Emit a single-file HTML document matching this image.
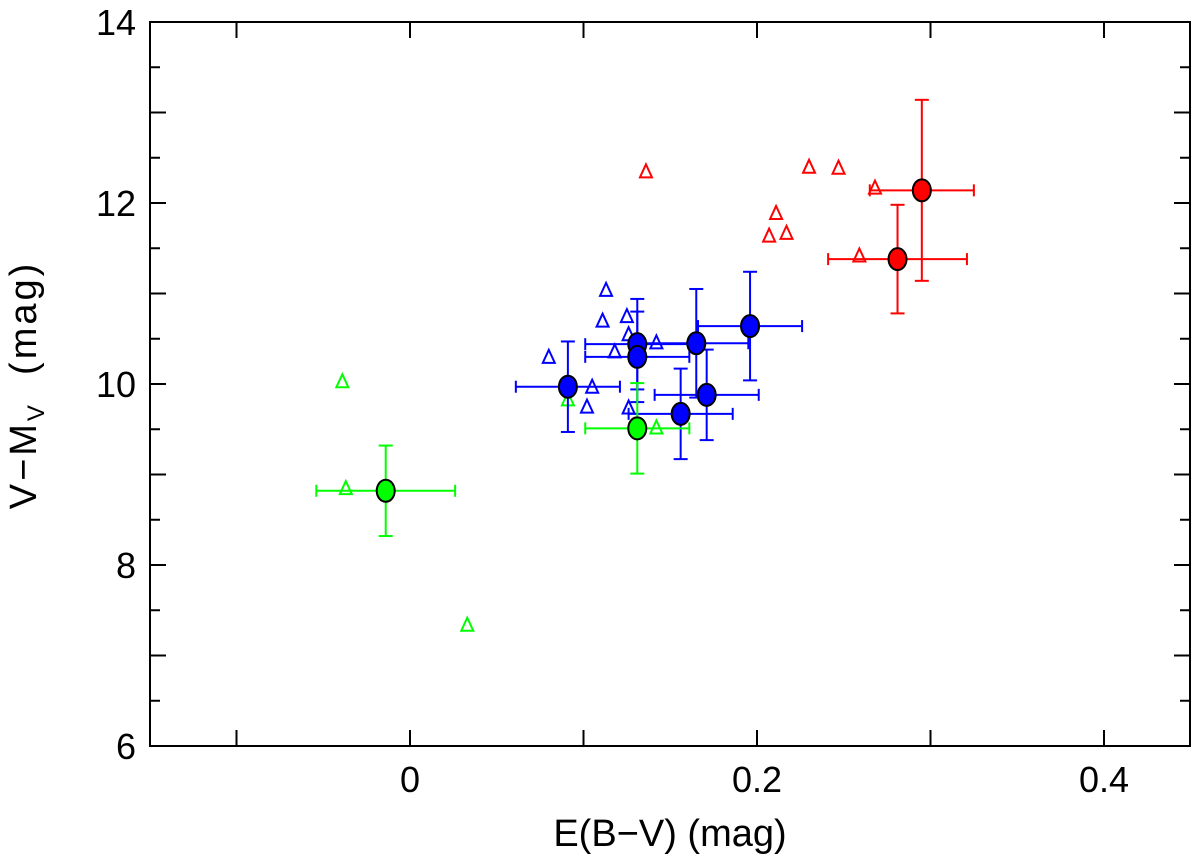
<!DOCTYPE html>
<html><head><meta charset="utf-8"><style>
body{margin:0;background:#fff}
svg{display:block;font-family:"Liberation Sans",sans-serif}
</style></head><body>
<svg id="chart" width="1200" height="862"></svg>
<script>
const ptX=[0.091,0.131,0.131,0.165,0.196,0.171,0.156,0.295,0.281,-0.014,0.131];
const ptY=[9.97,10.44,10.30,10.45,10.64,9.88,9.67,12.14,11.38,8.82,9.51];
const ptXErr=[0.03,0.03,0.03,0.03,0.03,0.03,0.03,0.03,0.04,0.04,0.03];
const ptYErr=[0.5,0.5,0.5,0.6,0.6,0.5,0.5,1.0,0.6,0.5,0.5];
const ptGroup=["blue","blue","blue","blue","blue","blue","blue","red","red","green","green"];
const triX=[-0.039,-0.037,0.033,0.091,0.142,0.080,0.113,0.111,0.125,0.126,0.118,0.142,0.105,0.102,0.126,0.136,0.230,0.247,0.268,0.211,0.207,0.217,0.259];
const triY=[10.03,8.85,7.34,9.83,9.52,10.30,11.04,10.70,10.75,10.55,10.36,10.46,9.97,9.75,9.74,12.35,12.40,12.39,12.17,11.89,11.64,11.67,11.42];
const triGroup=["green","green","green","green","green","blue","blue","blue","blue","blue","blue","blue","blue","blue","blue","red","red","red","red","red","red","red","red"];
const xTicks=[-0.1,0,0.1,0.2,0.3,0.4];
const xLabels=["0","0.2","0.4"];
const yTicks=[6,6.5,7,7.5,8,8.5,9,9.5,10,10.5,11,11.5,12,12.5,13,13.5,14];
const yLabels=["6","8","10","12","14"];
const colors={blue:"#0000ff",red:"#ff0000",green:"#00ff00"};
const L=150,R=1190,T=22,B=746;
const sx=v=>410+v*1735;
const sy=v=>22+(14-v)*90.5;
const NS="http://www.w3.org/2000/svg";
const svg=document.getElementById('chart');
function mk(tag,attrs,parent){const e=document.createElementNS(NS,tag);for(const k in attrs)e.setAttribute(k,attrs[k]);(parent||svg).appendChild(e);return e;}
const frame=mk('rect',{x:L,y:T,width:R-L,height:B-T,fill:'none',stroke:'#000','stroke-width':2});


xTicks.forEach(v=>{const x=sx(v);
 const t=mk('line',{x1:x,x2:x,y1:B,y2:B-16,stroke:'#000','stroke-width':2});
 
 const t2=mk('line',{x1:x,x2:x,y1:T,y2:T+16,stroke:'#000','stroke-width':2});
 });
xLabels.forEach(s=>{const t=mk('text',{x:sx(parseFloat(s)),y:792,'font-size':36,'text-anchor':'middle',transform:''});t.textContent=s;
 });
yTicks.forEach(v=>{const y=sy(v);const len=(v%1===0)?16:10;
 const t=mk('line',{x1:L,x2:L+len,y1:y,y2:y,stroke:'#000','stroke-width':2});
 
 const t2=mk('line',{x1:R,x2:R-len,y1:y,y2:y,stroke:'#000','stroke-width':2});
 });
yLabels.forEach(s=>{const t=mk('text',{x:136,y:sy(parseFloat(s))+13,'font-size':36,'text-anchor':'end'});t.textContent=s;
 });
const xt=mk('text',{x:670,y:846,'font-size':38,'text-anchor':'middle'});xt.textContent='E(B\u2212V) (mag)';

const yt=mk('text',{x:0,y:0,'font-size':38,'text-anchor':'middle','letter-spacing':3,transform:'translate(36,385) rotate(-90)'});
yt.innerHTML='V\u2212M<tspan font-size="24" dy="8">V</tspan><tspan dy="-8" xml:space="preserve">  (mag)</tspan>';

triX.forEach((v,i)=>{const x=sx(v),y=sy(triY[i]);
 const p=mk('polygon',{points:`${x},${y-7} ${x-6},${y+6} ${x+6},${y+6}`,fill:'none',stroke:colors[triGroup[i]],'stroke-width':2});
 });
ptX.forEach((v,i)=>{const c=colors[ptGroup[i]];const x=sx(v),y=sy(ptY[i]);
 const x1=sx(v-ptXErr[i]),x2=sx(v+ptXErr[i]),y1=sy(ptY[i]+ptYErr[i]),y2=sy(ptY[i]-ptYErr[i]);
 const g=mk('g',{stroke:c,'stroke-width':2});
 
 mk('line',{x1:x1,x2:x2,y1:y,y2:y},g);mk('line',{x1:x,x2:x,y1:y1,y2:y2},g);
 mk('line',{x1:x1,x2:x1,y1:y-6,y2:y+6},g);mk('line',{x1:x2,x2:x2,y1:y-6,y2:y+6},g);
 mk('line',{x1:x-7,x2:x+7,y1:y1,y2:y1},g);mk('line',{x1:x-7,x2:x+7,y1:y2,y2:y2},g);});
ptX.forEach((v,i)=>{
 const e=mk('ellipse',{cx:sx(v),cy:sy(ptY[i]),rx:9,ry:11,fill:colors[ptGroup[i]],stroke:'#000','stroke-width':2});
 });
</script>
</body></html>
